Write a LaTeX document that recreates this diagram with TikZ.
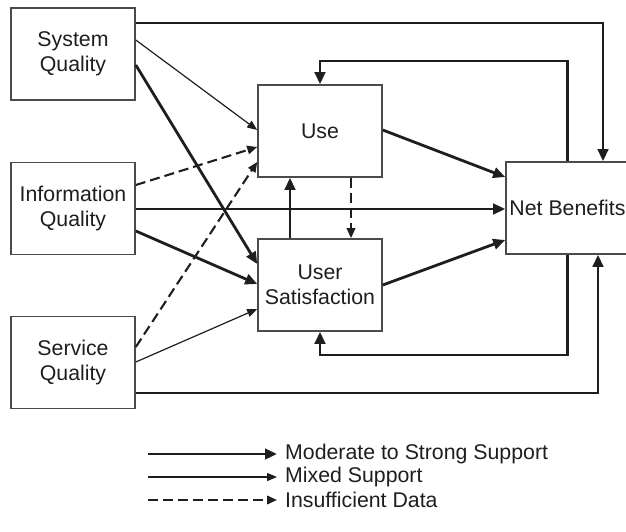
\documentclass[tikz,border=0pt]{standalone}
\usepackage{fontspec}
\setmainfont{Liberation Sans}
\usetikzlibrary{arrows.meta}
\definecolor{ink}{HTML}{1E1E1E}
\definecolor{boxline}{HTML}{4A4A4A}
\tikzset{
  box/.style={draw=boxline, line width=1.6pt, minimum width=124pt, minimum height=92pt,
    inner sep=0pt, align=center, text=ink, font=\fontsize{21.3}{25.5}\selectfont},
  strong/.style={draw=ink, line width=2.8pt, -{Triangle[length=12pt,width=10.5pt]}},
  mixed/.style={draw=ink, line width=1.2pt, -{Triangle[length=10pt,width=8pt]}},
  insuff/.style={draw=ink, line width=2.1pt, dash pattern=on 10pt off 5pt, -{Triangle[length=10pt,width=8.5pt]}},
  legtext/.style={anchor=west, inner sep=0pt, text=ink, font=\fontsize{21.3}{25.5}\selectfont}
}
\begin{document}
\begin{tikzpicture}[x=1pt,y=-1pt]
\useasboundingbox (0,0) rectangle (626,532);
\clip (0,0) rectangle (626,532);
\node[box] (sq)   at (73,54)    {System\\Quality};
\node[box] (iq)   at (73,208.5) {Information\\Quality};
\node[box] (serq) at (73,362.5) {Service\\Quality};
\node[box] (use)  at (320,131)  {Use};
\node[box] (us)   at (320,285)  {User\\Satisfaction};
\node[box, minimum width=123pt] (nb) at (567.5,208) {Net Benefits};
% outer feedback / direct lines
\draw[strong] (sq.east |- 0,23) -| ([xshift=35.5pt]nb.north);
\draw[strong] (nb.north) |- (use.north |- 0,61) -- (use.north);
\draw[strong] (nb.south) |- (us.south |- 0,355) -- (us.south);
\draw[strong] (serq.east |- 0,393) -| ([xshift=30.5pt]nb.south);
% diagonal links
\draw[mixed]  (sq.east |- 0,40)   -- (use.west |- 0,130);
\draw[strong] (sq.east |- 0,65)   -- (us.west |- 0,264);
\draw[insuff] (iq.east |- 0,185)  -- (use.west |- 0,147);
\draw[strong] (iq.east |- 0,209)  -- (nb.west |- 0,209);
\draw[strong] (iq.east |- 0,231)  -- (us.west |- 0,284);
\draw[insuff] (serq.east |- 0,347) -- (use.west |- 0,162);
\draw[mixed]  (serq.east |- 0,362) -- (us.west |- 0,309);
\draw[strong] (us.north -| 290,0) -- (use.south -| 290,0);
\draw[insuff] (use.south -| 351,0) -- (us.north -| 351,0);
\draw[strong] (use.east |- 0,130) -- (nb.west |- 0,177);
\draw[strong] (us.east |- 0,285)  -- (nb.west |- 0,240);
% legend
\coordinate (la1) at (148,454); \coordinate (lb1) at (277,454);
\coordinate (la2) at (148,477); \coordinate (lb2) at (277,477);
\coordinate (la3) at (148,500); \coordinate (lb3) at (277,500);
\draw[strong] (la1) -- (lb1);
\draw[mixed]  (la2) -- (lb2);
\draw[insuff] (la3) -- (lb3);
\node[legtext] (t1) at (285,454) {Moderate to Strong Support};
\node[legtext] (t2) at (285,477) {Mixed Support};
\node[legtext] (t3) at (285,500) {Insufficient Data};
\end{tikzpicture}
\end{document}
